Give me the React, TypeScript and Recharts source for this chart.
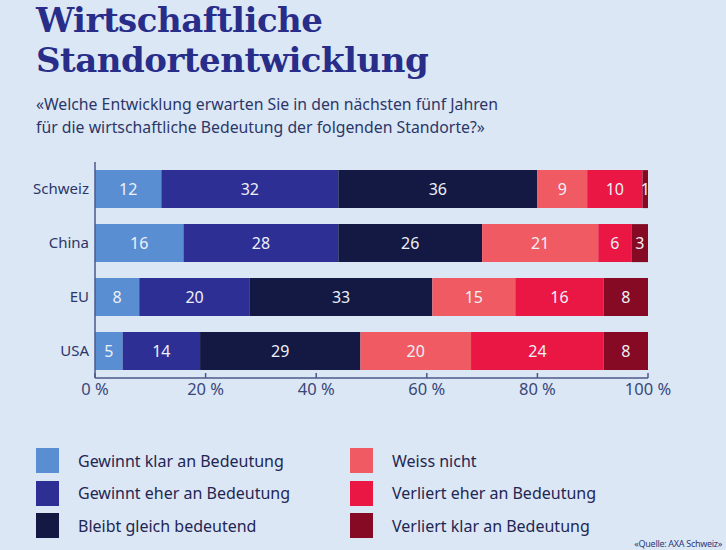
import { BarChart, Bar, XAxis, YAxis, LabelList } from "recharts";

// ─── Data ────────────────────────────────────────────────────────────────────

const CATEGORIES = ["Schweiz", "China", "EU", "USA"];
const GEWINNT_KLAR = [12, 16, 8, 5];
const GEWINNT_EHER = [32, 28, 20, 14];
const BLEIBT_GLEICH = [36, 26, 33, 29];
const WEISS_NICHT = [9, 21, 15, 20];
const VERLIERT_EHER = [10, 6, 16, 24];
const VERLIERT_KLAR = [1, 3, 8, 8];
const X_TICKS = [0, 20, 40, 60, 80, 100];

const SERIES = [
  { key: "klar", name: "Gewinnt klar an Bedeutung", color: "#5a8ed2", values: GEWINNT_KLAR },
  { key: "eher", name: "Gewinnt eher an Bedeutung", color: "#2d2f94", values: GEWINNT_EHER },
  { key: "gleich", name: "Bleibt gleich bedeutend", color: "#141944", values: BLEIBT_GLEICH },
  { key: "weiss", name: "Weiss nicht", color: "#f05b63", values: WEISS_NICHT },
  { key: "vEher", name: "Verliert eher an Bedeutung", color: "#ea1744", values: VERLIERT_EHER },
  { key: "vKlar", name: "Verliert klar an Bedeutung", color: "#860a24", values: VERLIERT_KLAR },
];

const data = CATEGORIES.map((name, i) => {
  const row: Record<string, unknown> = { name };
  for (const s of SERIES) row[s.key] = s.values[i];
  return row;
});

const BG = "#dbe7f5";
const SANS = "'Noto Sans', sans-serif";
const AXIS_COLOR = "#4b5889";
const TEXT_COLOR = "#2c3668";

function Legend() {
  const cols = [SERIES.slice(0, 3), SERIES.slice(3)];
  return (
    <>
      {cols.map((col, c) =>
        col.map((s, r) => (
          <div
            key={s.key}
            style={{
              position: "absolute",
              left: c === 0 ? 36 : 350,
              top: 448 + r * 32.5,
              display: "flex",
              alignItems: "center",
              height: 25,
            }}
          >
            <div style={{ width: 23, height: 25, background: s.color }} />
            <span style={{ marginLeft: 19, fontSize: 16, color: "#1f2653", fontFamily: SANS }}>{s.name}</span>
          </div>
        ))
      )}
    </>
  );
}

export default function App() {
  return (
    <div style={{ position: "absolute", left: 0, top: 0, width: 726, height: 550, background: BG, overflow: "hidden" }}>
      <div
        style={{
          position: "absolute", left: 36, top: 0,
          fontFamily: "'DejaVu Serif', serif", fontWeight: 700, fontSize: 34,
          lineHeight: "40px", color: "#272d89", letterSpacing: -0.5,
        }}
      >
        Wirtschaftliche<br />Standortentwicklung
      </div>
      <div
        style={{
          position: "absolute", left: 36, top: 93,
          fontFamily: SANS, fontSize: 15.8, lineHeight: "23px", color: TEXT_COLOR,
        }}
      >
        «Welche Entwicklung erwarten Sie in den nächsten fünf Jahren<br />
        für die wirtschaftliche Bedeutung der folgenden Standorte?»
      </div>

      <div style={{ position: "absolute", left: 0, top: 0 }}>
        <BarChart
          width={726}
          height={550}
          data={data}
          layout="vertical"
          margin={{ top: 162, right: 78, bottom: 142, left: 0 }}
          barCategoryGap="15%"
        >
          <XAxis
            type="number"
            domain={[0, 100]}
            ticks={X_TICKS}
            tickFormatter={(v: number) => `${v} %`}
            tick={{ fontSize: 16.5, fill: "#3a4679", fontFamily: SANS }}
            stroke={AXIS_COLOR}
            strokeWidth={1.5}
            tickSize={-5}
            tickMargin={10}
            height={30}
            interval={0}
          />
          <YAxis
            type="category"
            dataKey="name"
            width={95}
            tick={{ fontSize: 15, fill: TEXT_COLOR, fontFamily: SANS }}
            tickLine={false}
            tickSize={0}
            tickMargin={6}
            stroke={AXIS_COLOR}
            strokeWidth={1.5}
          />
          {SERIES.map((s) => (
            <Bar key={s.key} dataKey={s.key} stackId="a" fill={s.color} isAnimationActive={false}>
              <LabelList
                dataKey={s.key}
                position="center"
                fill="#eef0f7"
                fontSize={16}
                fontFamily={SANS}
              />
            </Bar>
          ))}
        </BarChart>
      </div>

      <Legend />
      <div
        style={{
          position: "absolute", right: 4, top: 537,
          fontFamily: SANS, fontSize: 9, color: "#2c3a7a", letterSpacing: -0.3,
        }}
      >
        «Quelle: AXA Schweiz»
      </div>
    </div>
  );
}
